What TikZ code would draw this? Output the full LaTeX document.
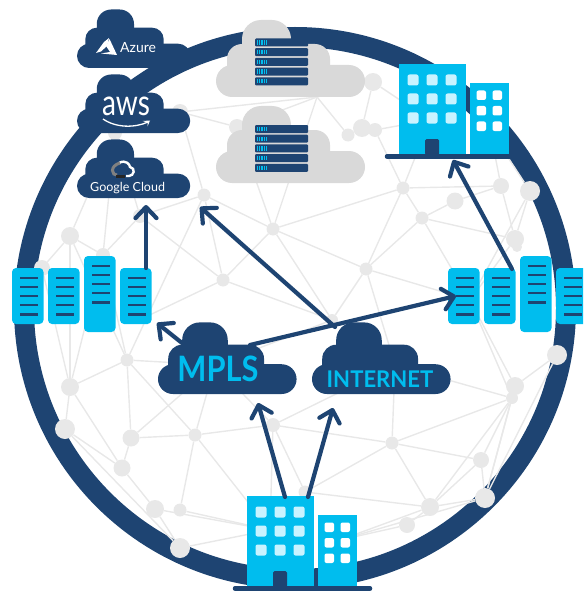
\documentclass[tikz,border=0pt]{standalone}
\usepackage{fontspec}
\setmainfont{Lato}
\usetikzlibrary{arrows.meta}
\definecolor{navy}{HTML}{1E4472}
\definecolor{skyblue}{HTML}{00BDEE}
\definecolor{paleblue}{HTML}{C9F3FF}
\definecolor{meshgrey}{HTML}{E8E8E8}
\definecolor{cloudgrey}{HTML}{D9D9D9}
\tikzset{
    meshdot/.style={circle, fill=meshgrey, inner sep=0},
    meshline/.style={draw=meshgrey, line width=1.4pt},
    flow/.style={draw=navy, line width=4.2pt, line cap=round, -{Straight Barb[length=11pt, width=21pt, round]}},
    whitetext/.style={text=white, inner sep=0},
    cyantext/.style={text=skyblue, inner sep=0, font=\bfseries}
}
% cloud: left, bottom, scale, colour
\newcommand{\cloudbody}[4]{
    \fill[#4, rounded corners=#3*16pt] (#1, #2) rectangle ++(149*#3, -32*#3);
    \fill[#4, rounded corners=#3*15pt] (#1+11*#3, #2-5*#3) rectangle ++(103*#3, -48*#3);
    \fill[#4, rounded corners=#3*19pt] (#1+26*#3, #2-20*#3) rectangle ++(49*#3, -57*#3);
}
% server: left, top, bottom
\newcommand{\serverunit}[3]{
    \fill[skyblue, rounded corners=4pt] (#1, #2) rectangle (#1+31.5, #3);
    \foreach \i in {0,...,4}
        \fill[navy] (#1+8, #2+8.5+9.2*\i) rectangle ++(17.5, 2.2);
}
\newcommand{\serverrow}[1]{
    \serverunit{#1}{268}{324}
    \serverunit{#1+36}{268}{324}
    \serverunit{#1+72}{256}{332}
    \serverunit{#1+108}{268}{324}
}
% stack of five racks: left, top
\newcommand{\rackstack}[2]{
    \foreach \i in {0,...,4} {
        \fill[navy, rounded corners=1pt] (#1, #2+9.7*\i) rectangle ++(53, 8);
        \foreach \j in {0,...,4}
            \fill[skyblue] (#1+2+2.2*\j, #2+1.8+9.7*\i) rectangle ++(1.2, 4.4);
    }
}
% offices: left of big block, ground line, right end of bar
\newcommand{\offices}[3]{
    \fill[skyblue] (#1, #2-91) rectangle (#1+67, #2);
    \fill[skyblue] (#1+71, #2-72) rectangle (#1+110, #2);
    \fill[navy, rounded corners=1.5pt] (#1+26, #2-16) rectangle (#1+40, #2);
    \foreach \i in {0,1,2} \foreach \j in {0,1,2}
        \fill[paleblue, rounded corners=2pt] (#1+8.5+19*\i, #2-80.5+19*\j) rectangle ++(11, 11);
    \foreach \i in {0,1} \foreach \j in {0,1,2}
        \fill[white, rounded corners=2pt] (#1+77.5+16*\i, #2-64.5+15.5*\j) rectangle ++(9.5, 9.5);
    \draw[navy, line width=4.5pt, line cap=round] (#1-12, #2+1.5) -- (#3, #2+1.5);
}

\begin{document}
\begin{tikzpicture}[x=1pt, y=-1pt]
    \clip (0, 0) rectangle (583, 591);

    \draw[navy, line width=20pt] (295, 308) circle (271pt);

    % grey mesh
    \foreach \name/\x/\y/\r in {
        a1/42/268/8, a2/70/236/9, a3/103/255/7, a4/140/216/7, a5/204/195/6.5,
        a6/273/229/6.5, a7/223/280/6.5, a8/127/360/6.5, a9/70/387/9, a10/65/429/10,
        a11/131/438/8.5, a12/122/468/8.5, a13/195/435/6.5, a14/155/509/9, a15/180/510/6.5,
        a16/180/548/10, a17/273/425/7, a18/305/492/6.5, a19/392/443/6.5, a20/332/320/6,
        a21/366/269/6.5, a22/403/188/6.5, a23/422/218/6.5, a24/455/201/8.5, a25/501/186/8,
        a26/530/191/10, a27/515/239/9, a28/517/247/5, a29/557/355/10, a30/515/386/9,
        a31/512/398/6, a32/481/460/8, a33/485/498/10, a34/430/507/9, a35/407/525/8,
        a36/373/82/9, a37/348/135/6.5, a38/362/128/9, a39/375/130/7, a40/180/112/8,
        a41/237/127/8, a42/115/133/7}
        \node[meshdot, minimum size=\r*2pt] (\name) at (\x, \y) {};
    \foreach \name/\x/\y in {
        hub/317/97, mplsback/215/365, inetback/395/365, topblock/430/120, topsmall/490/130,
        leftrow/135/322, rightrow/470/300, lowblock/270/530, lowsmall/340/540}
        \coordinate (\name) at (\x, \y);
    \foreach \a/\b in {
        a1/a2, a1/a9, a2/a3, a2/a9, a2/a8, a2/a42, a3/a4, a3/a9, a3/a8, a3/a42, a4/a5,
        a4/a7, a4/a42, a5/a6, a5/a7, a5/a8, a5/a40, a6/a7, a6/a20, a6/a21, a6/a22,
        a6/a41, a6/hub, a7/a20, a7/leftrow, a8/a9, a8/a11, a8/a13, a8/mplsback, a9/a10,
        a9/a12, a10/a12, a10/a16, a11/a12, a11/a13, a11/mplsback, a12/a14,
        a13/a15, a13/a17, a13/lowblock, a13/mplsback, a14/a16, a14/lowblock, a15/lowblock,
        a16/lowblock, a17/a18, a17/a19, a17/lowblock, a17/mplsback, a17/inetback, a18/a19,
        a18/a34, a19/a31, a19/a32, a19/a34, a19/inetback, a20/a21, a20/mplsback, a21/a22,
        a21/a23, a21/rightrow, a21/inetback, a22/a23, a22/a25, a22/a39, a22/topblock,
        a23/a24, a23/a27, a23/rightrow, a24/a25, a25/a27, a25/topsmall, a26/a27,
        a26/topsmall, a26/rightrow, a27/rightrow, a29/a30, a29/a33, a30/a33, a30/rightrow,
        a31/a33, a31/a34, a31/a32, a31/inetback, a31/rightrow, a32/a33, a32/a34, a33/a34,
        a34/a35, a34/lowsmall, a35/lowsmall, a33/lowsmall, a36/topblock, a36/hub, a37/a38,
        a37/hub, a38/a39, a39/topblock, a40/a41, a40/hub, a41/hub, a40/a42, a36/a38}
        \draw[meshline] (\a) -- (\b);

    % clouds
    \cloudbody{77}{68}{0.76}{navy}
    \cloudbody{77}{133}{0.76}{navy}
    \cloudbody{77}{198}{0.76}{navy}
    \cloudbody{216}{97}{1}{cloudgrey}
    \cloudbody{216}{183}{1}{cloudgrey}
    \cloudbody{158}{394}{0.93}{navy}
    \cloudbody{312}{394}{0.93}{navy}

    \rackstack{255}{38.5}
    \rackstack{255}{125}

    % azure mark
    \fill[white] (96, 53) -- (104, 42) -- (109, 38) -- (107, 46) -- (101, 51.5) -- cycle;
    \fill[white] (109.5, 39) -- (117, 55) -- (101, 53.5) -- (110, 52) -- (106, 46) -- cycle;
    \node[whitetext, font=\fontsize{14}{14}\selectfont, anchor=west] (azurelabel) at (120, 48) {Azure};

    % aws mark
    \node[whitetext, font=\fontsize{36}{36}\selectfont, xscale=0.78] (awslabel) at (126, 106) {aws};
    \draw[white, line width=1.3pt] (103, 119) .. controls (116, 128) and (135, 128) .. (148, 122);
    \fill[white] (142.5, 121) -- (150, 120.5) -- (147.5, 126.5) -- (147.6, 122.6) -- cycle;

    % google mark
    \draw[white, line width=2.4pt] (119, 163) .. controls (126, 159) and (130, 165) .. (130, 167) .. controls (136, 168) and (134, 176) .. (129, 176) -- (126, 176);
    \draw[gray, line width=3pt] (120, 163) .. controls (109, 166) and (112, 176) .. (117, 175);
    \fill[black!85] (116, 174.5) rectangle (125, 178);
    \draw[navy, line width=1pt] (119, 170) -- (122, 167);
    \node[whitetext, font=\fontsize{12.5}{13}\selectfont, anchor=west] (googlelabel) at (90, 188) {Google Cloud};

    \node[cyantext, font=\bfseries\fontsize{35}{35}\selectfont, xscale=0.88] (mplslabel) at (218, 369) {MPLS};
    \node[cyantext, font=\bfseries\fontsize{23}{23}\selectfont, xscale=0.96] (inetlabel) at (380, 379) {INTERNET};

    % servers
    \serverrow{12}
    \serverrow{448}

    % offices
    \offices{247}{587}{370}
    \offices{399}{155}{510}

    % uplinks
    \coordinate (lowleft) at (285, 497);
    \coordinate (lowright) at (308, 497);
    \coordinate (mplstop) at (258, 403);
    \coordinate (inetbottom) at (333, 408);
    \coordinate (mplscorner) at (182, 343);
    \coordinate (mplsroof) at (250, 345);
    \coordinate (inetroof) at (335, 327);
    \coordinate (leftend) at (157, 323);
    \coordinate (rightend) at (456, 296);
    \coordinate (greygap) at (200, 207);
    \coordinate (leftroof) at (146, 268);
    \coordinate (googlefoot) at (146, 205);
    \coordinate (rightroof) at (512, 269);
    \coordinate (topfoot) at (453, 160);
    \draw[flow] (lowleft) -- (mplstop);
    \draw[flow] (lowright) -- (inetbottom);
    \draw[flow] (mplscorner) -- (leftend);
    \draw[flow] (mplsroof) -- (rightend);
    \draw[flow] (inetroof) -- (greygap);
    \draw[flow] (leftroof) -- (googlefoot);
    \draw[flow] (rightroof) -- (topfoot);
\end{tikzpicture}
\end{document}
